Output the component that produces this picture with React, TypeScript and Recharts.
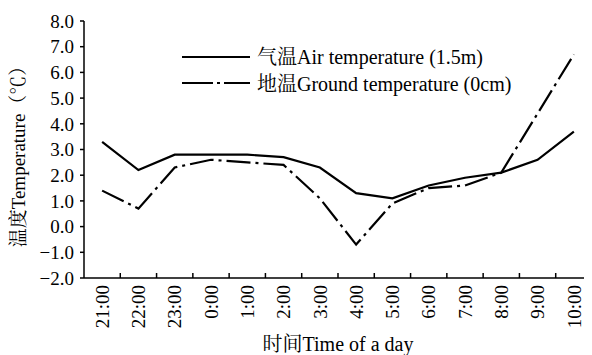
import React from 'react';
import { LineChart, Line, XAxis, YAxis } from 'recharts';

const hours = ['21:00', '22:00', '23:00', '0:00', '1:00', '2:00', '3:00', '4:00', '5:00', '6:00', '7:00', '8:00', '9:00', '10:00'];
const airTemp = [3.3, 2.2, 2.8, 2.8, 2.8, 2.7, 2.3, 1.3, 1.1, 1.6, 1.9, 2.1, 2.6, 3.7];
const groundTemp = [1.4, 0.7, 2.3, 2.6, 2.5, 2.4, 1.1, -0.7, 0.9, 1.5, 1.6, 2.1, 4.4, 6.7];
const yTicks = [-2, -1, 0, 1, 2, 3, 4, 5, 6, 7, 8];
const airName = '气温Air temperature (1.5m)';
const groundName = '地温Ground temperature (0cm)';
const xTitle = '时间Time of a day';
const yTitle = '温度Temperature（℃）';

const data = hours.map((h, i) => ({ hour: h, air: airTemp[i], ground: groundTemp[i] }));

const FONT = "'Liberation Serif', 'Times New Roman', 'Noto Serif CJK SC', 'Noto Sans CJK SC', serif";
const FS = 19;
const HALF = 18.14;
const DASH = '24 5 3 5';

const XTick = (props: any) => {
  const { x, y, payload, index } = props;
  const last = index === hours.length - 1;
  return (
    <g>
      {!last && <line x1={x + HALF} x2={x + HALF} y1={y} y2={y - 5} stroke="#000" strokeWidth={1.5} />}
      <text
        x={0}
        y={0}
        transform={`translate(${x},${y + 7}) rotate(-90)`}
        textAnchor="end"
        dy="0.35em"
        fontFamily={FONT}
        fontSize={FS}
        fill="#000"
      >
        {payload.value}
      </text>
    </g>
  );
};

const LegendBox = () => (
  <svg width={360} height={60} style={{ display: 'block', position: 'absolute', left: 174, top: 32 }}>
    <line x1={0} x2={68} y1={17} y2={17} stroke="#000" strokeWidth={2.2} />
    <text x={75} y={23.5} fontFamily={FONT} fontSize={20} fill="#000">{airName}</text>
    <line x1={0} x2={68} y1={43} y2={43} stroke="#000" strokeWidth={2.2} strokeDasharray="31 4 3 4" />
    <text x={75} y={51} fontFamily={FONT} fontSize={20} fill="#000">{groundName}</text>
  </svg>
);

export default function App() {
  return (
    <div style={{ position: 'relative', width: 584, height: 347 }}>
      <LineChart width={584} height={347} data={data} margin={{ top: 13, right: 0, left: 0, bottom: 0 }}>
        <XAxis
          dataKey="hour"
          height={77}
          padding={{ left: HALF, right: HALF }}
          tickLine={false}
          tickSize={0}
          tickMargin={0}
          interval={0}
          axisLine={{ stroke: '#000', strokeWidth: 1.5 }}
          tick={<XTick />}
          label={(p: any) => {
            const vb = p.viewBox;
            return (
              <text x={vb.x + vb.width / 2} y={vb.y + 73} textAnchor="middle" fontFamily={FONT} fontSize={20} fill="#000">
                {xTitle}
              </text>
            );
          }}
        />
        <YAxis
          width={76}
          domain={[-2, 8]}
          ticks={yTicks}
          interval={0}
          tickSize={4}
          tickMargin={6}
          tickLine={{ stroke: '#000', strokeWidth: 1.5 }}
          axisLine={{ stroke: '#000', strokeWidth: 1.5 }}
          tickFormatter={(v: number) => v.toFixed(1).replace('-', '−')}
          tick={{ fontFamily: FONT, fontSize: FS, fill: '#000' }}
          label={() => (
            <text
              x={0}
              y={0}
              transform={`translate(10,144) rotate(-90)`}
              textAnchor="middle"
              dominantBaseline="central"
              fontFamily={FONT}
              fontSize={19}
              fill="#000"
            >
              {yTitle}
            </text>
          )}
        />
        <Line type="linear" dataKey="air" name={airName} stroke="#000" strokeWidth={2.2} dot={false} isAnimationActive={false} />
        <Line type="linear" dataKey="ground" name={groundName} stroke="#000" strokeWidth={2.2} strokeDasharray={DASH} dot={false} isAnimationActive={false} />
      </LineChart>
      <LegendBox />
    </div>
  );
}
